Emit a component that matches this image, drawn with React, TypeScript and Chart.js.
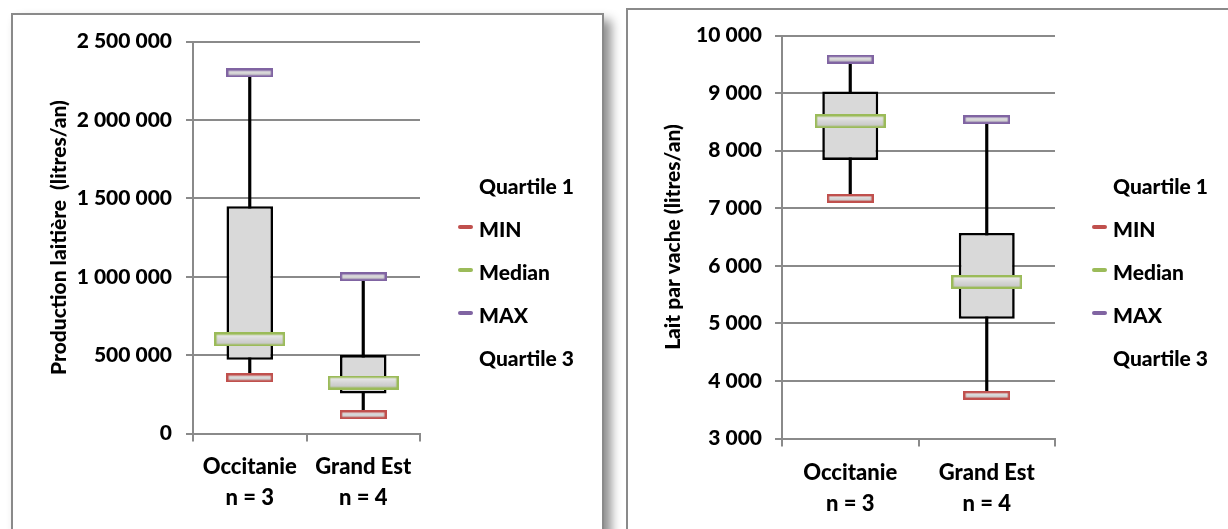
import React, { useEffect, useRef } from 'react';
import { Chart, registerables } from 'chart.js';

Chart.register(...registerables);

// ---------- data ----------
const categories = [['Occitanie', 'n = 3'], ['Grand Est', 'n = 4']];

// Production laitière (litres/an)
const prodMin = [355000, 120000];
const prodQ1 = [470000, 255000];
const prodMedian = [600000, 325000];
const prodQ3 = [1450000, 500000];
const prodMax = [2300000, 1000000];
const prodTicks = [0, 500000, 1000000, 1500000, 2000000, 2500000];

// Lait par vache (litres/an)
const laitMin = [7170, 3750];
const laitQ1 = [7840, 5080];
const laitMedian = [8510, 5720];
const laitQ3 = [9030, 6570];
const laitMax = [9590, 8540];
const laitTicks = [3000, 4000, 5000, 6000, 7000, 8000, 9000, 10000];

const legendLabels = ['Quartile 1', 'MIN', 'Median', 'MAX', 'Quartile 3'];
const legendColors = [null, '#c0504d', '#9bbb59', '#8064a2', null];

// ---------- styles ----------
const FONT = 'Lato, "Open Sans", sans-serif';
const WEIGHT = 900;
const GRID = '#8a8a8a';
const RED = '#c0504d';
const GREEN = '#9bbb59';
const PURPLE = '#8064a2';

function fmt(v: number) {
  return String(v).replace(/\B(?=(\d{3})+(?!\d))/g, ' ');
}

function makeMarker(w: number, h: number, color: string) {
  const c = document.createElement('canvas');
  c.width = w;
  c.height = h;
  const ctx = c.getContext('2d')!;
  const g = ctx.createLinearGradient(0, 0, 0, h);
  g.addColorStop(0, '#f2f2f2');
  g.addColorStop(0.5, '#d6d6d6');
  g.addColorStop(1, '#bfbfbf');
  ctx.fillStyle = g;
  ctx.fillRect(1, 1, w - 2, h - 2);
  ctx.strokeStyle = color;
  ctx.lineWidth = 2.4;
  ctx.strokeRect(1.2, 1.2, w - 2.4, h - 2.4);
  return c;
}

type Spec = {
  x: number; y: number; w: number; h: number;
  yWidth: number; padTop: number; padRight: number; xHeight: number;
  xPad: number; yPad: number; titlePad: number; title: string;
  min: number[]; q1: number[]; median: number[]; q3: number[]; max: number[];
  ticks: number[];
};

function buildConfig(s: Spec): any {
  const minImg = makeMarker(47, 9, RED);
  const maxImg = makeMarker(47, 9, PURPLE);
  const medImg = makeMarker(71, 14, GREEN);
  const tickFont = { family: FONT, size: 21, weight: WEIGHT };
  return {
    type: 'bar',
    data: {
      labels: categories,
      datasets: [
        { type: 'line', label: 'MIN', data: s.min, showLine: false, pointStyle: minImg, pointRadius: 4, order: 1 },
        { type: 'line', label: 'Median', data: s.median, showLine: false, pointStyle: medImg, pointRadius: 4, order: 1 },
        { type: 'line', label: 'MAX', data: s.max, showLine: false, pointStyle: maxImg, pointRadius: 4, order: 1 },
        {
          type: 'bar', label: 'Quartile 1 - Quartile 3',
          data: s.q1.map((v, i) => [v, s.q3[i]]),
          backgroundColor: '#d9d9d9', borderColor: '#000000', borderWidth: 2.6, borderSkipped: false,
          barPercentage: 0.41, categoryPercentage: 1, grouped: false, order: 2,
        },
        {
          type: 'bar', label: 'MIN - MAX',
          data: s.min.map((v, i) => [v, s.max[i]]),
          backgroundColor: '#000000', borderWidth: 0, barThickness: 2.5, grouped: false, order: 3,
        },
      ],
    },
    options: {
      animation: false,
      responsive: false,
      maintainAspectRatio: false,
      events: [],
      layout: { padding: { left: 0, top: s.padTop, right: s.padRight, bottom: 0 } },
      plugins: { legend: { display: false }, tooltip: { enabled: false } },
      scales: {
        x: {
          offset: true,
          grid: { offset: true, drawOnChartArea: false, drawTicks: true, tickLength: 8, color: GRID, lineWidth: 2 },
          border: { display: true, color: GRID, width: 2 },
          ticks: {
            font: { family: FONT, size: 22, weight: WEIGHT, lineHeight: 31 / 22 },
            color: '#000000', padding: s.xPad, maxRotation: 0, minRotation: 0, autoSkip: false,
          },
          afterFit: (sc: any) => { sc.height = s.xHeight; },
        },
        y: {
          min: s.ticks[0],
          max: s.ticks[s.ticks.length - 1],
          ticks: {
            stepSize: s.ticks[1] - s.ticks[0],
            callback: (v: number) => fmt(v),
            font: tickFont, color: '#000000', padding: s.yPad,
          },
          grid: { color: GRID, lineWidth: 2, tickLength: 7, drawTicks: true },
          border: { display: true, color: GRID, width: 2 },
          title: {
            display: true, text: s.title, color: '#000000',
            font: { family: FONT, size: 21, weight: WEIGHT, lineHeight: 1.2 },
            padding: { top: s.titlePad, bottom: 0 },
          },
          afterFit: (sc: any) => { sc.width = s.yWidth; },
        },
      },
    },
  };
}

function BoxChart({ spec }: { spec: Spec }) {
  const ref = useRef<HTMLCanvasElement>(null);
  useEffect(() => {
    let chart: Chart | null = null;
    let cancelled = false;
    const make = () => {
      if (cancelled || !ref.current) return;
      chart = new Chart(ref.current, buildConfig(spec));
    };
    const fonts = (document as any).fonts;
    if (fonts && fonts.load) {
      fonts.load(WEIGHT + ' 21px Lato').then(make, make);
    } else {
      make();
    }
    return () => {
      cancelled = true;
      if (chart) chart.destroy();
    };
  }, []);
  return (
    <canvas
      ref={ref}
      width={spec.w}
      height={spec.h}
      style={{ position: 'absolute', left: spec.x, top: spec.y, width: spec.w, height: spec.h }}
    />
  );
}

function Legend({ sampleX, textX }: { sampleX: number; textX: number }) {
  const ys = [186, 229, 272, 315, 358];
  return (
    <>
      {legendLabels.map((lab, i) => (
        <React.Fragment key={lab}>
          {legendColors[i] && (
            <div
              style={{
                position: 'absolute', left: sampleX, top: ys[i] - 4, width: 15, height: 4,
                borderRadius: 2, background: legendColors[i] as string,
              }}
            />
          )}
          <div
            style={{
              position: 'absolute', left: textX, top: ys[i] - 12.5, fontFamily: FONT, fontWeight: WEIGHT,
              fontSize: 21, lineHeight: '24px', color: '#000', whiteSpace: 'nowrap',
            }}
          >
            {lab}
          </div>
        </React.Fragment>
      ))}
    </>
  );
}

const leftSpec: Spec = {
  x: 13, y: 15, w: 589, h: 514,
  yWidth: 180, padTop: 25, padRight: 182, xHeight: 95.5,
  xPad: 10, yPad: 14, titlePad: 34, title: 'Production laitière  (litres/an)',
  min: prodMin, q1: prodQ1, median: prodMedian, q3: prodQ3, max: prodMax, ticks: prodTicks,
};

const rightSpec: Spec = {
  x: 628, y: 10, w: 600, h: 519,
  yWidth: 154, padTop: 25, padRight: 173, xHeight: 90.5,
  xPad: 11, yPad: 13, titlePad: 32.4, title: 'Lait par vache (litres/an)',
  min: laitMin, q1: laitQ1, median: laitMedian, q3: laitQ3, max: laitMax, ticks: laitTicks,
};

export default function App() {
  return (
    <div style={{ position: 'fixed', left: 0, top: 0, width: 1228, height: 529, overflow: 'hidden', background: '#fff' }}>
      <div
        style={{
          position: 'absolute', left: 11, top: 13, width: 593, height: 580, boxSizing: 'border-box',
          border: '2px solid #8a8a8a', boxShadow: '7px 7px 10px rgba(0,0,0,0.45)', background: '#fff',
        }}
      />
      <div
        style={{
          position: 'absolute', left: 626, top: 8, width: 660, height: 580, boxSizing: 'border-box',
          border: '2px solid #8a8a8a', background: '#fff',
        }}
      />
      <BoxChart spec={leftSpec} />
      <BoxChart spec={rightSpec} />
      <Legend sampleX={458} textX={479} />
      <Legend sampleX={1092} textX={1113} />
    </div>
  );
}
